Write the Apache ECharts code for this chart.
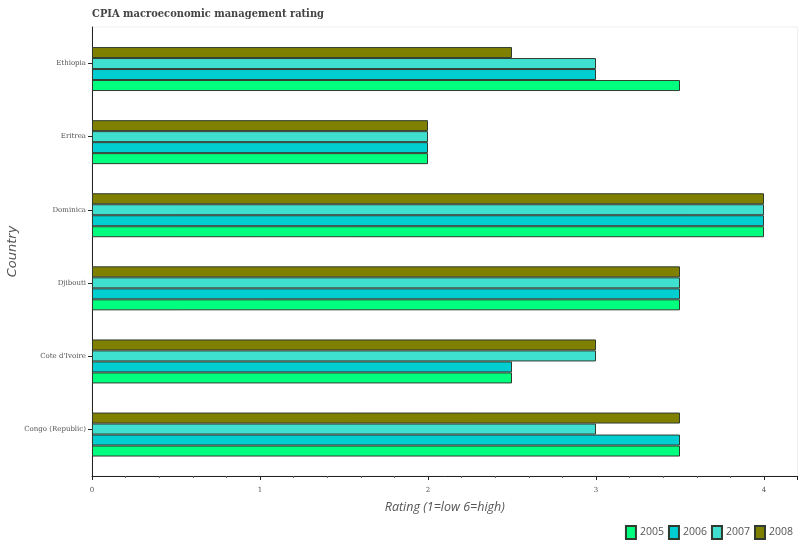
<!DOCTYPE html>
<html><head><meta charset="utf-8">
<script src="https://cdn.jsdelivr.net/npm/echarts@6/dist/echarts.min.js"></script>
<style>html,body{margin:0;padding:0;background:#fff}#c{width:800px;height:550px}</style>
</head><body><div id="c"></div>
<script>
const categories = ["Congo (Republic)", "Cote d'Ivoire", "Djibouti", "Dominica", "Eritrea", "Ethiopia"];
const years = ["2005", "2006", "2007", "2008"];
const v2005 = [3.5, 2.5, 3.5, 4, 2, 3.5];
const v2006 = [3.5, 2.5, 3.5, 4, 2, 3.0];
const v2007 = [3.0, 3.0, 3.5, 4, 2, 3.0];
const v2008 = [3.5, 3.0, 3.5, 4, 2, 2.5];
const xTicks = [0, 1, 2, 3, 4];

const colors = {'2005': '#00FF7F', '2006': '#00CED1', '2007': '#40E0D0', '2008': '#808000'};
const values = {'2005': v2005, '2006': v2006, '2007': v2007, '2008': v2008};
const chart = echarts.init(document.getElementById('c'));
const XMAX = 4.2;
// series listed top-to-bottom within a group; an empty spacer slot sits above 2008
const order = ['2008', '2007', '2006', '2005'];
const series = [{name: '_spacer', type: 'bar', xAxisIndex: 0, yAxisIndex: 0,
  data: categories.map(() => '-'), barGap: '0%', barCategoryGap: '24.8%', silent: true}]
  .concat(order.map(y => ({
    name: y, type: 'bar', xAxisIndex: 0, yAxisIndex: 0, data: values[y],
    barGap: '0%', barCategoryGap: '24.8%',
    itemStyle: {color: colors[y], borderColor: '#2f3b2f', borderWidth: 1}
  })));
chart.setOption({
  animation: false,
  title: {text: 'CPIA macroeconomic management rating', left: 92, top: 9, padding: 0,
    textStyle: {fontFamily: 'DejaVu Serif Condensed', fontSize: 11, fontWeight: 'bold', color: '#444'}},
  legend: {right: 7, bottom: 10, padding: 0, itemWidth: 10, itemHeight: 13, itemGap: 4,
    icon: 'rect',
    textStyle: {fontFamily: 'Open Sans', fontSize: 10.5, color: '#555', padding: [0, 0, 0, -1]},
    data: years},
  grid: [
    {left: 92, width: 705.6, top: 27, height: 438.6, outerBoundsMode: 'none', containLabel: false},
    {left: 92, width: 705.6, top: 27, height: 449, outerBoundsMode: 'none', containLabel: false,
      show: true, borderColor: '#f0f0f0', borderWidth: 1}
  ],
  xAxis: [
    {gridIndex: 0, type: 'value', min: 0, max: XMAX, show: false, splitLine: {show: false}},
    {gridIndex: 1, type: 'value', min: 0, max: XMAX, interval: 1,
      name: 'Rating (1=low 6=high)', nameLocation: 'middle', nameGap: 25,
      nameTextStyle: {fontFamily: 'Open Sans', fontStyle: 'italic', fontSize: 12.5, color: '#555'},
      axisLine: {show: true, lineStyle: {color: '#222'}},
      axisTick: {show: true, lineStyle: {color: '#222'}, length: 4},
      minorTick: {show: true, splitNumber: 5, length: 2, lineStyle: {color: '#666'}},
      splitLine: {show: false},
      axisLabel: {fontFamily: 'DejaVu Serif', fontSize: 7, color: '#555', margin: 11,
        formatter: v => xTicks.includes(v) ? String(v) : ''}}
  ],
  yAxis: [
    {gridIndex: 0, type: 'category', data: categories,
      axisLine: {show: false},
      axisTick: {show: true, alignWithLabel: true, length: 4, lineStyle: {color: '#222'}},
      axisLabel: {fontFamily: 'DejaVu Serif', fontSize: 7, color: '#555', margin: 6},
      splitLine: {show: false}},
    {gridIndex: 1, type: 'value', min: 0, max: 1,
      name: 'Country', nameLocation: 'middle', nameGap: 73, nameRotate: 90,
      nameTextStyle: {fontFamily: 'DejaVu Sans', fontStyle: 'italic', fontSize: 13, color: '#555'},
      axisLine: {show: true, lineStyle: {color: '#222'}},
      axisTick: {show: false}, axisLabel: {show: false}, splitLine: {show: false}}
  ],
  series: series
});
</script></body></html>
